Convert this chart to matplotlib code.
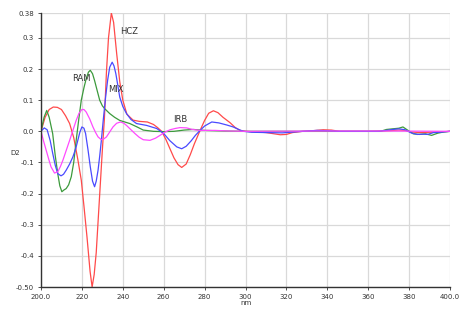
import matplotlib
matplotlib.use("Agg")
import matplotlib.pyplot as plt

plt.rcParams['font.family'] = ['Liberation Sans Narrow', 'DejaVu Sans']

hcz_x = [200, 202, 204, 206, 208, 210, 212, 214, 216, 218, 219.7, 221, 222.5, 224, 225, 226, 227, 228,
         229, 230, 231, 232, 233, 234.4, 235.5, 237, 238.5, 240, 242, 245, 248, 252, 255, 257, 259, 261,
         263, 265, 267, 268.8, 271, 273, 275, 277.8, 280, 282, 284.3, 286.5, 289, 292.4, 295, 297.3, 300,
         305, 310, 314, 317, 320, 323, 328, 333, 338, 342, 346, 350, 360, 370, 375, 378, 381, 385, 390,
         395, 400]
hcz_y = [0, 0.045, 0.07, 0.078, 0.077, 0.07, 0.05, 0.025, -0.02, -0.09, -0.157, -0.24, -0.34, -0.45,
         -0.50, -0.46, -0.39, -0.28, -0.17, -0.06, 0.04, 0.19, 0.30, 0.38, 0.35, 0.25, 0.16, 0.10, 0.055,
         0.036, 0.032, 0.03, 0.022, 0.012, 0.0, -0.025, -0.055, -0.085, -0.107, -0.116, -0.105, -0.075,
         -0.04, 0.003, 0.035, 0.058, 0.066, 0.06, 0.045, 0.028, 0.012, 0.003, 0.0, -0.002, -0.004, -0.008,
         -0.011, -0.01, -0.004, 0.0, 0.002, 0.005, 0.004, 0.0, 0.0, 0.0, 0.002, 0.004, 0.003, -0.002,
         -0.004, -0.003, -0.002, 0]

ram_x = [200, 201.5, 202.8, 204, 205.7, 207, 208.2, 209.2, 210.2, 211.3, 212.3, 213.5, 214.8, 216, 217.2,
         218.5, 219.7, 221, 222.1, 223.2, 224.1, 225.2, 226.2, 227.5, 228.7, 230, 231.1, 233.6, 236, 238.5,
         243.4, 247, 250, 255, 260, 265, 270, 274.5, 280, 290, 300, 340, 366, 369, 372, 375, 377, 379, 382,
         385, 388, 391, 394, 397, 400]
ram_y = [0, 0.045, 0.067, 0.045, -0.007, -0.08, -0.136, -0.175, -0.194, -0.188, -0.184, -0.172, -0.146,
         -0.1, -0.029, 0.04, 0.1, 0.14, 0.169, 0.19, 0.196, 0.185, 0.163, 0.13, 0.1, 0.082, 0.073, 0.057,
         0.045, 0.035, 0.025, 0.014, 0.004, 0.0, -0.001, 0.0, 0.004, 0.006, 0.003, 0.001, 0, 0, 0, 0.006,
         0.008, 0.01, 0.014, 0.005, -0.008, -0.01, -0.008, -0.013, -0.006, -0.002, 0]

mix_x = [200, 201.6, 203, 204.5, 205.7, 207, 208.2, 209.8, 211, 212.3, 214, 215.6, 217, 218, 219, 220, 221,
         221.8, 223, 224.1, 225.2, 226.2, 227, 227.9, 228.7, 229.5, 230.5, 231.6, 232.6, 233.6, 234.8,
         235.7, 236.6, 237.5, 238.5, 240, 241.8, 244, 246.7, 251.6, 256.6, 260, 263, 266.4, 268.8, 271,
         273.5, 275.5, 277.8, 280, 283.5, 287, 291, 294, 297, 299, 303, 310, 318, 322, 328, 335, 340, 345,
         365, 369, 372, 375, 378, 381, 384, 387, 389, 392, 395, 400]
mix_y = [0, 0.011, 0.005, -0.03, -0.07, -0.11, -0.136, -0.143, -0.138, -0.125, -0.105, -0.082, -0.055,
         -0.029, -0.003, 0.014, 0.01, -0.007, -0.06, -0.114, -0.16, -0.178, -0.16, -0.125, -0.08, -0.03,
         0.04, 0.11, 0.165, 0.206, 0.222, 0.21, 0.185, 0.15, 0.11, 0.08, 0.057, 0.038, 0.025, 0.019, 0.009,
         -0.007, -0.03, -0.05, -0.056, -0.048, -0.03, -0.013, 0.003, 0.017, 0.03, 0.027, 0.02, 0.014,
         0.005, 0, -0.003, -0.004, -0.005, -0.003, 0, 0.003, 0.002, 0, 0, 0.003, 0.006, 0.008, 0.005,
         -0.005, -0.01, -0.009, -0.01, -0.004, -0.003, 0]

irb_x = [200, 201.2, 202.5, 203.8, 204.9, 206.6, 208.2, 209.5, 210.7, 212.3, 214, 215.6, 217.2, 218.6, 220,
         221, 222.1, 223.8, 225.4, 226.7, 227.9, 229.5, 230.8, 232, 233.6, 235.2, 237, 238.9, 240.5, 241.8,
         244, 245.9, 248, 250, 253.3, 256, 258.2, 260.5, 263.1, 265.5, 268, 271.2, 274, 277.8, 285, 292,
         300, 340, 370, 400]
irb_y = [0, -0.03, -0.06, -0.09, -0.114, -0.134, -0.13, -0.113, -0.093, -0.062, -0.029, 0.003, 0.035,
         0.058, 0.07, 0.07, 0.062, 0.04, 0.014, -0.004, -0.018, -0.027, -0.024, -0.018, -0.002, 0.014,
         0.026, 0.03, 0.026, 0.019, 0.005, -0.007, -0.019, -0.027, -0.029, -0.022, -0.013, -0.003, 0.005,
         0.009, 0.012, 0.011, 0.006, 0.003, 0.003, 0.001, 0, 0.001, 0.001, 0]

x_ticks = [200, 220, 240, 260, 280, 300, 320, 340, 360, 380, 400]
x_labels = ['200.0', '220', '240', '260', '280', '300', '320', '340', '360', '380', '400.0']
y_ticks = [-0.5, -0.4, -0.3, -0.2, -0.1, 0.0, 0.1, 0.2, 0.3, 0.38]
y_labels = ['-0.50', '-0.4', '-0.3', '-0.2', '-0.1', '0.0', '0.1', '0.2', '0.3', '0.38']


def main():
    fig = plt.figure(figsize=(4.68, 3.15), dpi=100)
    ax = fig.add_axes([41 / 468, 28 / 315, 409 / 468, 274 / 315])

    ax.plot(hcz_x, hcz_y, color='#ff4a4a', lw=0.9)
    ax.plot(ram_x, ram_y, color='#3c9a3c', lw=0.9)
    ax.plot(mix_x, mix_y, color='#4a4aff', lw=0.9)
    ax.plot(irb_x, irb_y, color='#ff4aff', lw=0.9)

    ax.set_xlim(200, 400)
    ax.set_ylim(-0.5, 0.38)
    ax.set_xticks(x_ticks)
    ax.set_xticklabels(x_labels)
    ax.set_yticks(y_ticks)
    ax.set_yticklabels(y_labels)
    ax.tick_params(labelsize=5, length=2, width=0.6, colors='#333333', pad=3)
    ax.grid(True, color='#d9d9d9', lw=0.9)
    ax.set_axisbelow(True)
    for s in ['top', 'right']:
        ax.spines[s].set_visible(False)
    for s in ['left', 'bottom']:
        ax.spines[s].set_color('#333333')
        ax.spines[s].set_linewidth(1.0)

    ax.text(238.5, 0.32, 'HCZ', fontsize=6, color='#333333', va='center')
    ax.text(215, 0.17, 'RAM', fontsize=6, color='#333333', va='center')
    ax.text(233, 0.135, 'MIX', fontsize=6, color='#333333', va='center')
    ax.text(264.5, 0.038, 'IRB', fontsize=6, color='#333333', va='center')

    fig.text(15 / 468, 1 - 153 / 315, 'D2', fontsize=5, color='#333333', ha='center', va='center')
    fig.text(246 / 468, 1 - 303 / 315, 'nm', fontsize=5, color='#333333', ha='center', va='center')

    fig.savefig('out.png', dpi=100)


if __name__ == '__main__':
    main()
